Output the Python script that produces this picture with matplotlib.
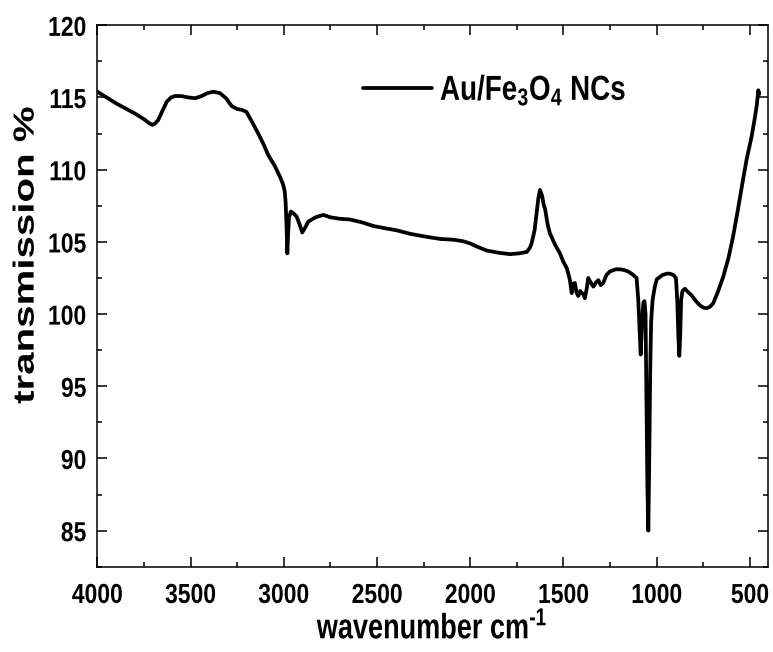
import matplotlib
matplotlib.use("Agg")
import matplotlib.pyplot as plt
from matplotlib.ticker import MultipleLocator
from matplotlib.patheffects import AbstractPathEffect
from matplotlib.transforms import Affine2D

plt.rcParams['font.family'] = ['Liberation Sans', 'DejaVu Sans']
plt.rcParams['font.weight'] = 'bold'
plt.rcParams['mathtext.fontset'] = 'custom'
plt.rcParams['mathtext.rm'] = 'Liberation Sans:bold'
plt.rcParams['mathtext.bf'] = 'Liberation Sans:bold'
plt.rcParams['mathtext.default'] = 'bf'


class VerticalStretch(AbstractPathEffect):
    """Draw text glyphs stretched along the screen's vertical direction."""

    def __init__(self, factor, anchor='center'):
        super().__init__()
        self.factor = factor
        self.anchor = anchor

    def draw_path(self, renderer, gc, tpath, affine, rgbFace=None):
        ext = tpath.get_extents(affine)
        if self.anchor == 'bottom':
            y0 = ext.y0
        elif self.anchor == 'top':
            y0 = ext.y1
        else:
            y0 = 0.5 * (ext.y0 + ext.y1)
        stretch = Affine2D().translate(0, -y0).scale(1, self.factor).translate(0, y0)
        renderer.draw_path(gc, tpath, affine + stretch, rgbFace)


# FTIR spectrum of Au/Fe3O4 nanocomposites
wavenumber = [
    4000, 3950, 3900, 3850, 3800, 3750, 3720, 3705, 3690, 3673, 3650, 3628,
    3605, 3583, 3550, 3510, 3476, 3440, 3410, 3378, 3342, 3310, 3279, 3250,
    3226, 3200, 3170, 3137, 3110, 3083, 3050, 3020, 3003, 2995, 2990, 2985,
    2981, 2977, 2972, 2962, 2950, 2931, 2915, 2901, 2885, 2869, 2830, 2788,
    2750, 2700, 2645, 2580, 2520, 2460, 2395, 2320, 2234, 2160, 2091, 2040,
    2002, 1960, 1912, 1850, 1787, 1740, 1697, 1680, 1671, 1655, 1644, 1635,
    1626, 1615, 1605, 1599, 1585, 1573, 1545, 1519, 1500, 1483, 1470, 1465,
    1456, 1448, 1439, 1430, 1421, 1410, 1403, 1394, 1385, 1375, 1367, 1355,
    1340, 1325, 1313, 1300, 1287, 1270, 1251, 1220, 1197, 1175, 1153, 1130,
    1108, 1099, 1092, 1086, 1080, 1072, 1066, 1060, 1055, 1050, 1045, 1040,
    1035, 1030, 1022, 1010, 1000, 970, 945, 929, 910, 897, 890, 884,
    879, 874, 869, 862, 849, 830, 813, 790, 768, 750, 732, 715,
    697, 670, 643, 615, 590, 565, 544, 518, 491, 475, 464, 455,
    452, 450,
]
transmission = [
    115.4, 115.0, 114.6, 114.25, 113.9, 113.5, 113.2, 113.1, 113.2, 113.45, 114.1, 114.7,
    115.0, 115.1, 115.1, 115.0, 114.95, 115.1, 115.3, 115.4, 115.3, 114.95, 114.4, 114.2,
    114.15, 114.0, 113.3, 112.5, 111.8, 111.0, 110.3, 109.5, 108.95, 108.5, 107.7, 106.0,
    104.2, 105.5, 106.7, 107.1, 107.0, 106.75, 106.2, 105.65, 106.0, 106.4, 106.7, 106.87,
    106.7, 106.6, 106.55, 106.35, 106.1, 105.95, 105.8, 105.55, 105.35, 105.2, 105.15, 105.05,
    104.9, 104.65, 104.4, 104.25, 104.15, 104.2, 104.3, 104.6, 104.9, 105.8, 107.0, 108.0,
    108.6, 108.2, 107.5, 107.3, 106.2, 105.6, 104.8, 104.2, 103.6, 103.2, 102.6, 102.3,
    101.45, 102.1, 102.15, 101.5, 101.25, 101.6, 101.45, 101.4, 101.1, 101.8, 102.5, 102.2,
    101.9, 102.2, 102.35, 102.0, 102.15, 102.7, 102.95, 103.1, 103.1, 103.05, 102.95, 102.75,
    102.5, 101.0, 99.0, 97.2, 99.0, 100.76, 100.9, 100.0, 94.0, 88.0, 85.0, 90.0,
    96.0, 99.5, 101.0, 101.9, 102.4, 102.7, 102.8, 102.8, 102.7, 102.5, 101.0, 98.5,
    97.1, 98.5, 101.0, 101.6, 101.75, 101.5, 101.3, 100.9, 100.6, 100.45, 100.4, 100.5,
    100.75, 101.6, 102.6, 103.9, 105.4, 107.2, 108.8, 110.7, 112.3, 113.5, 114.4, 115.5,
    115.2, 115.3,
]

series_label = "Au/Fe$_3$O$_4$ NCs"
x_label = r"wavenumber cm$^{\text{-1}}$"
y_label = "transmission %"
x_ticks = [4000, 3500, 3000, 2500, 2000, 1500, 1000, 500]
y_ticks = [85, 90, 95, 100, 105, 110, 115, 120]

fig = plt.figure(figsize=(7.73, 6.52), dpi=100)
ax = fig.add_axes([0.1259, 0.1308, 0.8672, 0.8304])

ax.plot(wavenumber, transmission, color='black', lw=2.7,
        solid_joinstyle='round', solid_capstyle='round', label=series_label)

ax.set_xlim(4000, 405)
ax.set_ylim(82.5, 120)
ax.set_xticks(x_ticks)
ax.set_yticks(y_ticks)
ax.xaxis.set_minor_locator(MultipleLocator(250))
ax.yaxis.set_minor_locator(MultipleLocator(2.5))

ax.tick_params(which='both', direction='in', top=True, right=True,
               width=1.1, labelsize=16.5)
ax.tick_params(axis='x', pad=12)
ax.tick_params(axis='y', pad=8)
ax.tick_params(which='major', length=7)
ax.tick_params(which='minor', length=3.5)
for sp in ax.spines.values():
    sp.set_linewidth(1.1)

xl = ax.set_xlabel(x_label, fontsize=19.5, fontweight='bold', labelpad=5)
yl = ax.set_ylabel(y_label, fontsize=21, fontweight='bold', labelpad=6)
xl.set_path_effects([VerticalStretch(1.3)])
yl.set_path_effects([VerticalStretch(1.38, anchor='bottom')])

leg = ax.legend(loc='center left', bbox_to_anchor=(0.396, 0.88), frameon=False,
                fontsize=20, handlelength=2.5, handletextpad=0.28,
                borderaxespad=0, borderpad=0)
for t in leg.get_texts():
    t.set_fontweight('bold')
    t.set_path_effects([VerticalStretch(1.25)])

fig.canvas.draw()
for tick in ax.xaxis.get_major_ticks() + ax.yaxis.get_major_ticks():
    tick.label1.set_fontweight('bold')
    tick.label1.set_path_effects([VerticalStretch(1.2)])

fig.savefig('out.png', dpi=100)
